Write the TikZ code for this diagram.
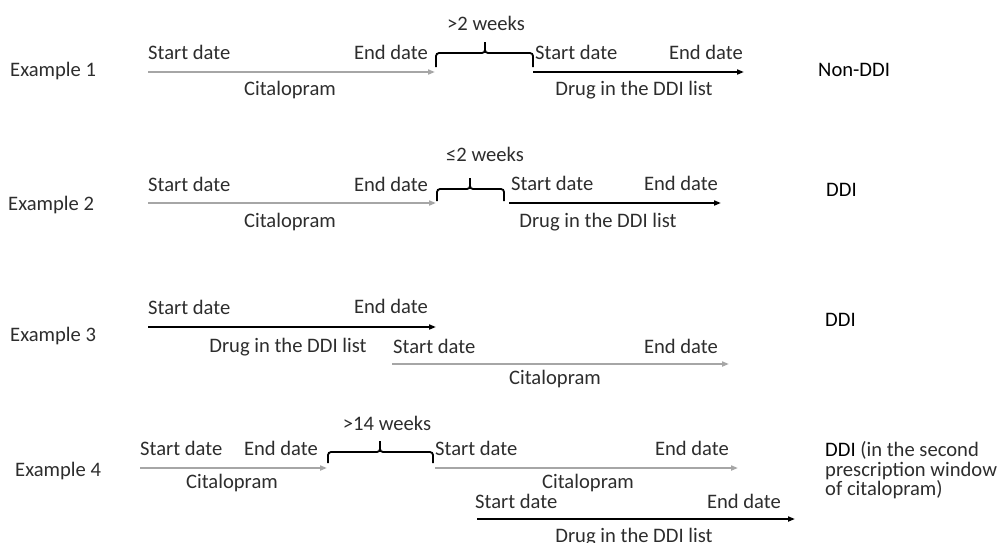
\documentclass[tikz,border=0pt]{standalone}
\usepackage{fontspec}
\setmainfont{Carlito}
\usetikzlibrary{arrows.meta}
\definecolor{citgray}{RGB}{166,166,166}
\definecolor{txt}{RGB}{45,45,45}
% gap brace: x left, x right, x middle, y of tips, y of bar
\newcommand{\gapbrace}[5]{%
\draw[brc] (#1,#4) -- (#1,#5) -- (#3,#5) -- (#3,#5-11);
\draw[brc] (#2,#4) -- (#2,#5) -- (#3,#5) -- (#3,#5-11);}

\begin{document}
\begin{tikzpicture}
[x=1pt,y=-1pt,>={Triangle[length=7pt,width=5pt]},
lbl/.style = {inner sep=0pt, text=txt, font=\fontsize{20.6}{18.3}\selectfont},
res/.style = {lbl, text=black},
cit/.style = {draw=citgray, line width=1.8pt, ->},
ddi/.style = {draw=black, line width=1.8pt, ->},
brc/.style = {draw=black, line width=1.8pt, rounded corners=3pt},]

\useasboundingbox (0,0) rectangle (1001,542);

% Example 1
\node (X1) at (10,76.5)[lbl,anchor=base west] {Example 1};
\coordinate (c1s) at (148,72);
\coordinate (c1e) at (435,72);
\coordinate (d1s) at (533,72);
\coordinate (d1e) at (744,72);
\draw[cit] (c1s)--(c1e);
\draw[ddi] (d1s)--(d1e);
\node (S1) at (148,59)[lbl,anchor=base west] {Start date};
\node (E1) at (428,59)[lbl,anchor=base east] {End date};
\node (C1) at (290,95.5)[lbl,anchor=base] {Citalopram};
\gapbrace{436}{533}{485}{67}{53}
\node (G1) at (486,30.5)[lbl,anchor=base] {>2 weeks};
\node (S1d) at (535,59)[lbl,anchor=base west] {Start date};
\node (E1d) at (743,59)[lbl,anchor=base east] {End date};
\node (D1) at (634,95.5)[lbl,anchor=base] {Drug in the DDI list};
\node (R1) at (818,76)[res,anchor=base west] {Non-DDI};

% Example 2
\node (X2) at (8,210.5)[lbl,anchor=base west] {Example 2};
\coordinate (c2s) at (148,203);
\coordinate (c2e) at (436,203);
\coordinate (d2s) at (509,203);
\coordinate (d2e) at (721,203);
\draw[cit] (c2s)--(c2e);
\draw[ddi] (d2s)--(d2e);
\node (S2) at (148,191)[lbl,anchor=base west] {Start date};
\node (E2) at (428,191)[lbl,anchor=base east] {End date};
\node (C2) at (290,227)[lbl,anchor=base] {Citalopram};
\gapbrace{437}{504}{470}{201}{189}
\node (G2) at (485,161.5)[lbl,anchor=base] {≤2 weeks};
\node (S2d) at (511,190)[lbl,anchor=base west] {Start date};
\node (E2d) at (718,190)[lbl,anchor=base east] {End date};
\node (D2) at (598,227)[lbl,anchor=base] {Drug in the DDI list};
\node (R2) at (826,196)[res,anchor=base west] {DDI};

% Example 3
\node (X3) at (10,341.5)[lbl,anchor=base west] {Example 3};
\coordinate (d3s) at (148,327);
\coordinate (d3e) at (436,327);
\coordinate (c3s) at (392,364);
\coordinate (c3e) at (729,364);
\draw[ddi] (d3s)--(d3e);
\draw[cit] (c3s)--(c3e);
\node (S3d) at (148,314)[lbl,anchor=base west] {Start date};
\node (E3d) at (428,313)[lbl,anchor=base east] {End date};
\node (D3) at (288,352.5)[lbl,anchor=base] {Drug in the DDI list};
\node (S3) at (393,353.5)[lbl,anchor=base west] {Start date};
\node (E3) at (718,353.5)[lbl,anchor=base east] {End date};
\node (C3) at (555,384)[lbl,anchor=base] {Citalopram};
\node (R3) at (825,326)[res,anchor=base west] {DDI};

% Example 4
\node (X4) at (15,476)[lbl,anchor=base west] {Example 4};
\coordinate (c4s) at (140,468);
\coordinate (c4e) at (327,468);
\coordinate (c4t) at (435,468);
\coordinate (c4u) at (738,468);
\coordinate (d4s) at (477,519);
\coordinate (d4e) at (795,519);
\draw[cit] (c4s)--(c4e);
\draw[cit] (c4t)--(c4u);
\draw[ddi] (d4s)--(d4e);
\node (S4) at (140,455.5)[lbl,anchor=base west] {Start date};
\node (E4) at (318,455.5)[lbl,anchor=base east] {End date};
\node (C4) at (232,488)[lbl,anchor=base] {Citalopram};
\gapbrace{328}{433}{380}{463}{452}
\node (G4) at (387,430.5)[lbl,anchor=base] {>14 weeks};
\node (S4b) at (435,455.5)[lbl,anchor=base west] {Start date};
\node (E4b) at (729,455.5)[lbl,anchor=base east] {End date};
\node (C4b) at (588,488)[lbl,anchor=base] {Citalopram};
\node (S4d) at (475,508)[lbl,anchor=base west] {Start date};
\node (E4d) at (781,508)[lbl,anchor=base east] {End date};
\node (D4) at (634,542)[lbl,anchor=base] {Drug in the DDI list};
\node (R4) at (825,456.5)[lbl,anchor=base west] {\textcolor{black}{DDI} (in the second};
\node (R4b) at (825,476)[lbl,anchor=base west] {prescription window};
\node (R4c) at (825,495.5)[lbl,anchor=base west] {of citalopram)};

\end{tikzpicture}
\end{document}
